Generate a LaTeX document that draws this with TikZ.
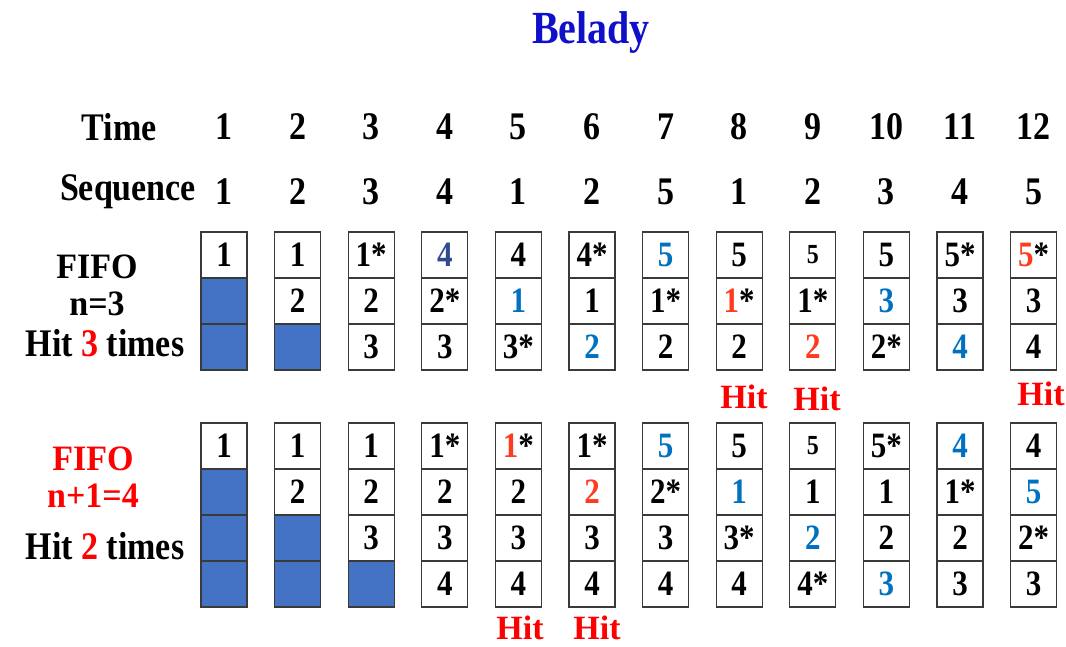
\documentclass[tikz,border=0pt]{standalone}
\usepackage{fontspec}
\setmainfont{Liberation Serif}
\definecolor{fillblue}{HTML}{4472C4}
\definecolor{titleblue}{HTML}{1010C8}
\definecolor{cblue}{HTML}{0070C0}
\definecolor{cnavy}{HTML}{2F4A8F}
\definecolor{cred}{HTML}{FF3B1F}
\definecolor{hitred}{HTML}{FF0000}
\definecolor{edge}{HTML}{3A3A3A}
\newcommand\tall[1]{\scalebox{1}[1.15]{#1}}
\newcommand\semitall[1]{\scalebox{1}[1.05]{#1}}
\tikzset{
  lab/.style={font=\bfseries\fontsize{34}{40}\selectfont, inner sep=0pt},
  cell/.style={draw=edge, line width=1.1pt, minimum width=46pt, minimum height=46pt, inner sep=0pt,
    font=\bfseries\fontsize{31}{36}\selectfont},
  filled/.style={cell, fill=fillblue},
  hit/.style={lab, text=hitred}
}
\begin{document}
\begin{tikzpicture}[x=1pt,y=-1pt]
\useasboundingbox (0,0) rectangle (1066,647);
\node[lab, font=\bfseries\fontsize{40}{46}\selectfont, text=titleblue] (title) at (591,33) {\tall{Belady}};
% header rows
\node[lab] (time) at (119,127) {\tall{Time}};
\node[lab] (seq) at (128,192) {\tall{Sequence}};
\foreach \c/\v in {1/1,2/2,3/3,4/4,5/5,6/6,7/7,8/8,9/9,10/10,11/11,12/12}{
  \node[lab] (tm\c) at ({224+73.6*(\c-1)},127) {\tall{\v}};
}
\foreach \c/\v in {1/1,2/2,3/3,4/4,5/1,6/2,7/5,8/1,9/2,10/3,11/4,12/5}{
  \node[lab] (sq\c) at ({224+73.6*(\c-1)},192) {\tall{\v}};
}
% left labels
\node[lab] (f1) at (97,267) {\semitall{FIFO}};
\node[lab] (n1) at (97,304) {\semitall{n=3}};
\node[lab] (h1) at (105,343) {\tall{Hit \textcolor{hitred}{3} times}};
\node[lab, text=hitred] (f2) at (93,459) {\semitall{FIFO}};
\node[lab, text=hitred] (n2) at (93,496) {\semitall{n+1=4}};
\node[lab] (h2) at (105,546) {\tall{Hit \textcolor{hitred}{2} times}};
% top grid (FIFO n=3)
\foreach \c/\r in {1/2,1/3,2/3}{
  \node[filled] (a\c-\r) at ({224+73.6*(\c-1)},{255+46*(\r-1)}) {};
}
\foreach \c/\r/\t/\k in {
  1/1/1/black, 2/1/1/black, 2/2/2/black,
  3/1/1*/black, 3/2/2/black, 3/3/3/black,
  4/1/4/cnavy, 4/2/2*/black, 4/3/3/black,
  5/1/4/black, 5/2/1/cblue, 5/3/3*/black,
  6/1/4*/black, 6/2/1/black, 6/3/2/cblue,
  7/1/5/cblue, 7/2/1*/black, 7/3/2/black,
  8/1/5/black, 8/3/2/black,
  9/2/1*/black, 9/3/2/cred,
  10/1/5/black, 10/2/3/cblue, 10/3/2*/black,
  11/1/5*/black, 11/2/3/black, 11/3/4/cblue,
  12/2/3/black, 12/3/4/black}{
  \node[cell, text=\k] (a\c-\r) at ({224+73.6*(\c-1)},{255+46*(\r-1)}) {\tall{\t}};
}
\node[cell] (a8-2) at ({224+73.6*7},301) {\tall{\textcolor{cred}{1}*}};
\node[cell, font=\bfseries\fontsize{24}{28}\selectfont] (a9-1) at ({224+73.6*8},255) {\tall{5}};
\node[cell] (a12-1) at ({224+73.6*11},255) {\tall{\textcolor{cred}{5}*}};
% hits top
\node[hit] (ht8) at (744,397) {Hit};
\node[hit] (ht9) at (817,399) {Hit};
\node[hit] (ht12) at (1041,394) {Hit};
% bottom grid (FIFO n+1=4)
\foreach \c/\r in {1/2,1/3,1/4,2/3,2/4,3/4}{
  \node[filled] (b\c-\r) at ({224+73.6*(\c-1)},{446+46*(\r-1)}) {};
}
\foreach \c/\r/\t/\k in {
  1/1/1/black, 2/1/1/black, 2/2/2/black,
  3/1/1/black, 3/2/2/black, 3/3/3/black,
  4/1/1*/black, 4/2/2/black, 4/3/3/black, 4/4/4/black,
  5/2/2/black, 5/3/3/black, 5/4/4/black,
  6/1/1*/black, 6/2/2/cred, 6/3/3/black, 6/4/4/black,
  7/1/5/cblue, 7/2/2*/black, 7/3/3/black, 7/4/4/black,
  8/1/5/black, 8/2/1/cblue, 8/3/3*/black, 8/4/4/black,
  9/2/1/black, 9/3/2/cblue, 9/4/4*/black,
  10/1/5*/black, 10/2/1/black, 10/3/2/black, 10/4/3/cblue,
  11/1/4/cblue, 11/2/1*/black, 11/3/2/black, 11/4/3/black,
  12/1/4/black, 12/2/5/cblue, 12/3/2*/black, 12/4/3/black}{
  \node[cell, text=\k] (b\c-\r) at ({224+73.6*(\c-1)},{446+46*(\r-1)}) {\tall{\t}};
}
\node[cell] (b5-1) at ({224+73.6*4},446) {\tall{\textcolor{cred}{1}*}};
\node[cell, font=\bfseries\fontsize{24}{28}\selectfont] (b9-1) at ({224+73.6*8},446) {\tall{5}};
% hits bottom
\node[hit] (hb5) at (520,628) {Hit};
\node[hit] (hb6) at (597,628) {Hit};
\end{tikzpicture}
\end{document}
